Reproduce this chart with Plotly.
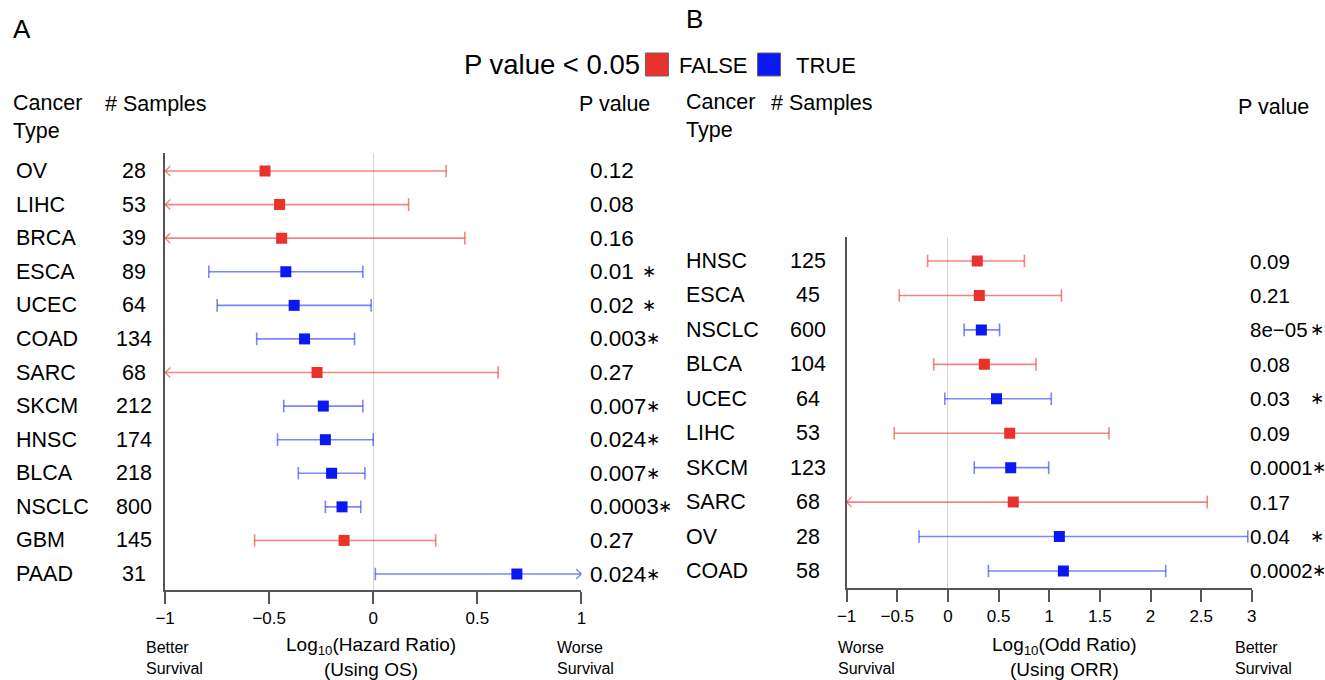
import plotly.graph_objects as go

# ---------------- data ----------------
# Panel A : Log10(Hazard Ratio), using OS
A_types = ["OV", "LIHC", "BRCA", "ESCA", "UCEC", "COAD", "SARC", "SKCM", "HNSC", "BLCA", "NSCLC", "GBM", "PAAD"]
A_samples = [28, 53, 39, 89, 64, 134, 68, 212, 174, 218, 800, 145, 31]
A_est = [-0.52, -0.45, -0.44, -0.42, -0.38, -0.33, -0.27, -0.24, -0.23, -0.20, -0.15, -0.14, 0.69]
A_low = [-1.0, -1.0, -1.0, -0.79, -0.75, -0.56, -1.0, -0.43, -0.46, -0.36, -0.23, -0.57, 0.01]
A_high = [0.35, 0.17, 0.44, -0.05, -0.01, -0.09, 0.60, -0.05, 0.0, -0.04, -0.06, 0.30, 1.0]
A_pval = ["0.12", "0.08", "0.16", "0.01", "0.02", "0.003", "0.27", "0.007", "0.024", "0.007", "0.0003", "0.27", "0.024"]
A_sig = [False, False, False, True, True, True, False, True, True, True, True, False, True]
A_ticks = [-1, -0.5, 0, 0.5, 1]
A_range = [-1, 1]

# Panel B : Log10(Odd Ratio), using ORR
B_types = ["HNSC", "ESCA", "NSCLC", "BLCA", "UCEC", "LIHC", "SKCM", "SARC", "OV", "COAD"]
B_samples = [125, 45, 600, 104, 64, 53, 123, 68, 28, 58]
B_est = [0.29, 0.31, 0.33, 0.36, 0.48, 0.61, 0.62, 0.645, 1.10, 1.14]
B_low = [-0.20, -0.48, 0.16, -0.14, -0.03, -0.53, 0.26, -1.0, -0.285, 0.40]
B_high = [0.755, 1.12, 0.51, 0.87, 1.02, 1.59, 0.995, 2.56, 2.96, 2.15]
B_pval = ["0.09", "0.21", "8e\u221205", "0.08", "0.03", "0.09", "0.0001", "0.17", "0.04", "0.0002"]
B_sig = [False, False, True, False, True, False, True, False, True, True]
B_ticks = [-1, -0.5, 0, 0.5, 1, 1.5, 2, 2.5, 3]
B_range = [-1, 3]

# ---------------- style ----------------
W, H = 1325, 680
FONT = "Liberation Sans, Arial, Helvetica, sans-serif"
RED_M, RED_L = "#E8322B", "rgba(236,60,52,0.62)"
BLUE_M, BLUE_L = "#0A18F2", "rgba(30,45,245,0.58)"
AXC = "#555555"
TS = 21.5   # table text size
PS = 22.5   # p-value text size (panel A)
PSB = 20.5  # p-value text size (panel B)
STAR = "\u2217"

# the page is shown slightly compressed horizontally; map wanted screen x to figure x
XS, XO = 0.988, 10.0


def px(xp):
    return (xp - XO) / XS / W


def py(yp):
    return 1 - yp / H


def text_w(s, size):
    # Arial / Liberation Sans advance widths for digits, '.', 'e', minus
    w = {".": 0.278, "e": 0.556, "\u2212": 0.584}
    return sum(w.get(c, 0.556) for c in s) * size * XS


fig = go.Figure()


def add_panel(xa, ya, est, low, high, sig, xr, ahx, ahy):
    n = len(est)
    rows = list(range(1, n + 1))
    for flag, mc, lc in [(False, RED_M, RED_L), (True, BLUE_M, BLUE_L)]:
        idx = [i for i in range(n) if sig[i] == flag]
        lx, ly, cx, cy, arx, ary = [], [], [], [], [], []
        for i in idx:
            r = rows[i]
            lx += [low[i], high[i], None]
            ly += [r, r, None]
            for v, side in [(low[i], 0), (high[i], 1)]:
                if (side == 0 and v <= xr[0]) or (side == 1 and v >= xr[1]):
                    d = ahx if side == 0 else -ahx
                    arx += [v + d, v, v + d, None]
                    ary += [r - ahy, r, r + ahy, None]
                else:
                    cx.append(v)
                    cy.append(r)
        fig.add_trace(go.Scatter(x=lx, y=ly, xaxis=xa, yaxis=ya, mode="lines",
                                 line=dict(color=lc, width=1.6), hoverinfo="skip", showlegend=False))
        fig.add_trace(go.Scatter(x=arx, y=ary, xaxis=xa, yaxis=ya, mode="lines",
                                 line=dict(color=lc, width=1.4), hoverinfo="skip", showlegend=False))
        fig.add_trace(go.Scatter(x=cx, y=cy, xaxis=xa, yaxis=ya, mode="markers",
                                 marker=dict(symbol="line-ns", size=9,
                                             line=dict(color=lc, width=1.6)),
                                 hoverinfo="skip", showlegend=False))
        fig.add_trace(go.Scatter(x=[est[i] for i in idx], y=[rows[i] for i in idx],
                                 xaxis=xa, yaxis=ya, mode="markers",
                                 marker=dict(symbol="square", size=11, color=mc),
                                 showlegend=False))


add_panel("x", "y", A_est, A_low, A_high, A_sig, A_range, 0.025, 0.15)
add_panel("x2", "y2", B_est, B_low, B_high, B_sig, B_range, 0.05, 0.145)

xcommon = dict(showgrid=False, showline=True, linecolor=AXC, linewidth=1.5,
               ticks="outside", ticklen=12, tickwidth=1.5, tickcolor=AXC,
               zeroline=True, zerolinecolor="#D6D6D6", zerolinewidth=1,
               tickfont=dict(size=17, color="black", family=FONT))
ycommon = dict(showgrid=False, showline=True, linecolor=AXC, linewidth=1.5,
               ticks="", showticklabels=False, zeroline=False)

fig.update_layout(
    width=W, height=H, autosize=False, margin=dict(l=0, r=0, t=0, b=0),
    paper_bgcolor="white", plot_bgcolor="white",
    font=dict(family=FONT, color="black"),
    xaxis=dict(domain=[px(165), px(581)], range=A_range, tickvals=A_ticks,
               ticktext=[f"{v:g}".replace("-", "\u2212") for v in A_ticks], anchor="y", **xcommon),
    yaxis=dict(domain=[py(590), py(153)], range=[len(A_est) + 0.476, 0.464], anchor="x", **ycommon),
    xaxis2=dict(domain=[px(846), px(1251)], range=B_range, tickvals=B_ticks,
                ticktext=[f"{v:g}".replace("-", "\u2212") for v in B_ticks], anchor="y2", **xcommon),
    yaxis2=dict(domain=[py(588), py(237)], range=[len(B_est) + 0.494, 0.303], anchor="x2", **ycommon),
)

ann = []


def txt(x, y, s, size=TS, xanchor="left", yanchor="middle", xref="paper", yref="paper", align="left"):
    ann.append(dict(x=x, y=y, text=s, xref=xref, yref=yref, showarrow=False,
                    xanchor=xanchor, yanchor=yanchor, align=align,
                    font=dict(size=size, family=FONT, color="black")))


# panel letters
txt(px(11), py(29), "A", size=26)
txt(px(684), py(19), "B", size=26)

# legend
txt(px(462), py(64), "P value &lt; 0.05", size=27.5)
txt(px(677), py(66), "FALSE", size=22)
txt(px(793), py(66), "TRUE", size=22)
shapes = [
    dict(type="rect", xref="paper", yref="paper", x0=px(645), x1=px(668), y0=py(76), y1=py(53),
         fillcolor=RED_M, line=dict(color="#666666", width=1)),
    dict(type="rect", xref="paper", yref="paper", x0=px(757), x1=px(780), y0=py(76), y1=py(53),
         fillcolor=BLUE_M, line=dict(color="#666666", width=1)),
]

# headers
txt(px(11), py(117), "Cancer<br>Type")
txt(px(103), py(104), "# Samples")
txt(px(577), py(104), "P value")
txt(px(684), py(116), "Cancer<br>Type")
txt(px(768), py(103), "# Samples")
txt(px(1235), py(107), "P value")

# rows panel A
for i, (t, s, p, g) in enumerate(zip(A_types, A_samples, A_pval, A_sig)):
    r = i + 1
    txt(px(14), r, t, yref="y")
    txt(px(134), r, str(s), yref="y", xanchor="center")
    txt(px(588), r, p, yref="y", size=PS)
    if g:
        end = 588 + text_w(p, PS)
        sx = max(649, end + 9)
        txt(px(sx), r, STAR, yref="y", xanchor="center", size=17)

# rows panel B
for i, (t, s, p, g) in enumerate(zip(B_types, B_samples, B_pval, B_sig)):
    r = i + 1
    txt(px(684), r, t, yref="y2")
    txt(px(807), r, str(s), yref="y2", xanchor="center")
    txt(px(1247), r, p, yref="y2", size=PSB)
    if g:
        end = 1247 + text_w(p, PSB)
        txt(px(max(1316, end + 9)), r, STAR, yref="y2", xanchor="center", size=17)

# axis titles and direction labels
txt(px(371), py(657), "Log<sub>10</sub>(Hazard Ratio)<br>(Using OS)", size=19, xanchor="center", align="center")
txt(px(144), py(658), "Better<br>Survival", size=16)
txt(px(555), py(658), "Worse<br>Survival", size=16)
txt(px(1064), py(657), "Log<sub>10</sub>(Odd Ratio)<br>(Using ORR)", size=19, xanchor="center", align="center")
txt(px(835), py(658), "Worse<br>Survival", size=16)
txt(px(1232), py(658), "Better<br>Survival", size=16)

fig.update_layout(annotations=ann, shapes=shapes)
fig.write_html("out.html",
               config={"responsive": False, "displayModeBar": False},
               post_script="document.body.style.margin='0px';document.body.style.overflow='hidden';")
